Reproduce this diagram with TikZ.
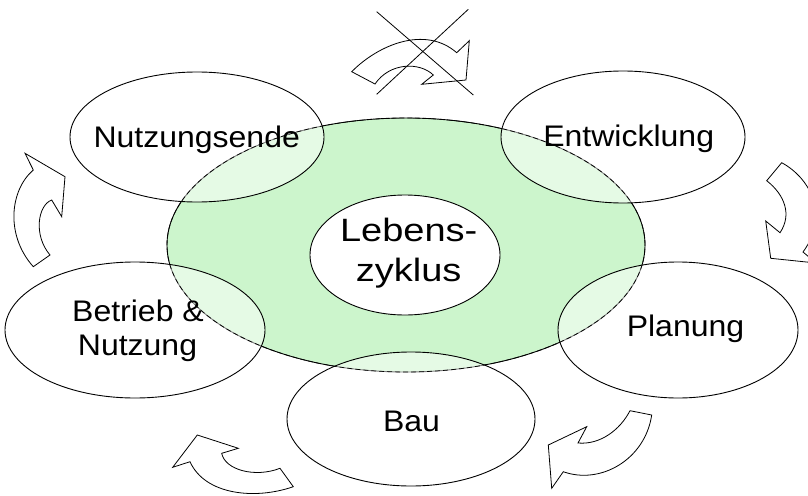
\documentclass[tikz,border=0pt]{standalone}
\usepackage{fontspec}
\setmainfont{Liberation Sans}
\usetikzlibrary{shapes.geometric}
\definecolor{lgreen}{RGB}{204,245,204}
\begin{document}
\begin{tikzpicture}[x=1pt,y=-1pt,
  ringsty/.style={ellipse, fill=lgreen, draw=black, line width=0.9pt, inner sep=0pt, minimum width=478pt, minimum height=254pt},
  bub/.style={ellipse, draw=black, line width=0.9pt, fill=white, fill opacity=0.5, inner sep=0pt},
  coresty/.style={ellipse, draw=black, line width=0.9pt, fill=white, inner sep=0pt, minimum width=190pt, minimum height=120pt},
  lbl/.style={anchor=base, inner sep=0pt, font=\fontsize{32}{36}\selectfont},
  clbl/.style={anchor=base, inner sep=0pt, font=\fontsize{38}{42}\selectfont},
  carrow/.style={draw=black, line width=0.8pt, fill=white, line join=miter},
  xline/.style={draw=black, line width=0.8pt},
  ringdash/.style={draw=black, line width=0.7pt, dash pattern=on 5pt off 3pt}]
\useasboundingbox (0,0) rectangle (808,495);
\clip (0,0) rectangle (808,495);
\fill[white] (0,0) rectangle (808,495);

% green ring
\node[ringsty] (ring) at (406,245) {};

% outer stages
\node[bub, minimum width=254pt, minimum height=130pt] (ende) at (197,137) {};
\node[bub, minimum width=244pt, minimum height=132pt] (entw) at (623,137) {};
\node[bub, minimum width=240pt, minimum height=136pt] (plan) at (678,330) {};
\node[bub, minimum width=248pt, minimum height=134pt] (bau) at (411,419) {};
\node[bub, minimum width=260pt, minimum height=136pt] (betr) at (135,330) {};

% dashed ring border inside overlaps
\draw[ringdash] (ring.center) ellipse [x radius=239pt, y radius=127pt];

% centre
\node[coresty] (core) at (405,255) {};

% labels
\node[lbl] (tende) at (196.7,147) {\scalebox{1}[0.93]{Nutzungsende}};
\node[lbl] (tentw) at (628.7,146.7) {\scalebox{1}[0.93]{Entwicklung}};
\node[lbl] (tplan) at (685.5,336.7) {\scalebox{1}[0.93]{Planung}};
\node[lbl] (tbau) at (411.5,431) {\scalebox{1}[0.93]{Bau}};
\node[lbl] (tbetra) at (138,321.7) {\scalebox{1}[0.93]{Betrieb \&}};
\node[lbl] (tbetrb) at (137.5,355) {\scalebox{1}[0.93]{Nutzung}};
\node[clbl] (tcorea) at (408.7,241.7) {\scalebox{1}[0.85]{Lebens-}};
\node[clbl] (tcoreb) at (408.7,281.7) {\scalebox{1}[0.85]{zyklus}};

% top (crossed out) arrow
\draw[carrow] (351.7,71.7) .. controls (378,45) and (425,25) .. (456.7,52.7)
  -- (469.3,40.7) -- (466,80) -- (421.7,84.3) -- (433.3,75)
  .. controls (420,62) and (390,62) .. (375,84) -- cycle;
\draw[xline] (376.7,11.7) -- (473.3,95);
\draw[xline] (468.3,9.3) -- (376.7,94.3);

% right arrow
\draw[carrow] (766.7,180.7) .. controls (785,195) and (792,215) .. (780,232.7)
  -- (765.7,221) -- (770.7,258.3) -- (816,263) -- (803,252)
  .. controls (830,215) and (810,178) .. (781.7,162.7) -- cycle;

% bottom-right arrow
\draw[carrow] (630,410.7) .. controls (620,430) and (600,445) .. (578,443)
  -- (586.7,426.7) -- (548.3,445) -- (551.7,488.3) -- (563.3,471.7)
  .. controls (600,485) and (645,460) .. (651.7,415) -- cycle;

% bottom-left arrow
\draw[carrow] (172.7,467.3) -- (197.3,435) -- (238.3,448.3) -- (221.7,453.3)
  .. controls (225,470) and (255,478) .. (280,468.3)
  -- (293.3,486.7) .. controls (255,500) and (205,495) .. (190,461.7) -- cycle;

% left arrow
\draw[carrow] (25,153.3) -- (65,176.7) -- (61.7,216.7) -- (51.7,200)
  .. controls (38,205) and (33,235) .. (50,255)
  -- (33.3,266.7) .. controls (5,235) and (10,190) .. (33.3,170) -- cycle;
\end{tikzpicture}
\end{document}
